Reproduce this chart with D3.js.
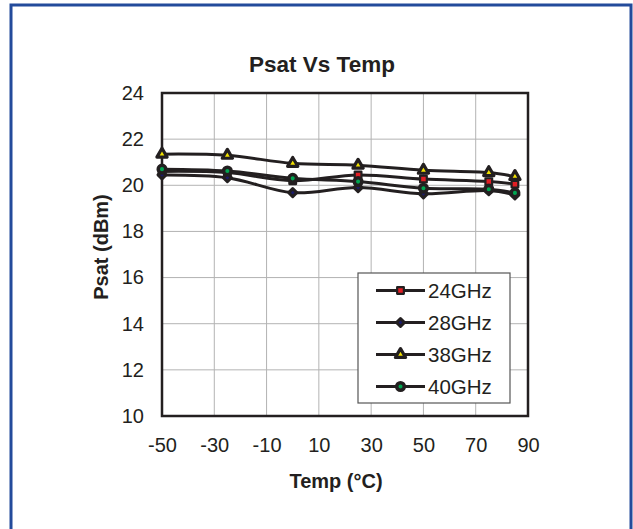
<!DOCTYPE html>
<html>
  <head>
    <meta charset="utf-8">
    <title>Psat Vs Temp</title>
    <script src="https://d3js.org/d3.v7.min.js"></script>
    <style>
      body { margin: 0; background: #fff; }
      svg { display: block; font-family: "Liberation Sans", Arial, sans-serif; }
      .tick text { font-size: 20px; fill: #231f20; }
    </style>
  </head>
  <body>
    <svg id="chart" width="633" height="529"></svg>
    <script>
      // chart data
      temps = [-50, -25, 0, 25, 50, 75, 85];
      psat24 = [20.6, 20.55, 20.2, 20.45, 20.27, 20.16, 20.05];
      psat28 = [20.45, 20.33, 19.68, 19.9, 19.63, 19.77, 19.58];
      psat38 = [21.35, 21.3, 20.95, 20.87, 20.65, 20.55, 20.38];
      psat40 = [20.7, 20.62, 20.3, 20.16, 19.87, 19.83, 19.67];
      seriesNames = ["24GHz", "28GHz", "38GHz", "40GHz"];
      xTicks = [-50, -30, -10, 10, 30, 50, 70, 90];
      yTicks = [10, 12, 14, 16, 18, 20, 22, 24];

      series = [
        { name: seriesNames[0], values: psat24, symbol: d3.symbolSquare, size: 45, stroke: 2.2, rot: 0, fill: "#e31e24" },
        { name: seriesNames[1], values: psat28, symbol: d3.symbolSquare, size: 32, stroke: 3, rot: 45, fill: "#1b1b6b" },
        { name: seriesNames[2], values: psat38, symbol: d3.symbolTriangle, size: 45, stroke: 3.2, rot: 0, fill: "#f2e200" },
        { name: seriesNames[3], values: psat40, symbol: d3.symbolCircle, size: 45, stroke: 3.5, rot: 0, fill: "#00a651" }
      ];

      svg = d3.select("#chart");
      margin = { top: 93, right: 105, bottom: 113, left: 162 };
      width = 633;
      height = 529;

      // blue frame
      svg.append("rect")
        .attr("x", 11).attr("y", 5)
        .attr("width", 620).attr("height", 540)
        .attr("fill", "none")
        .attr("stroke", "#234b9b")
        .attr("stroke-width", 3);

      x = d3.scaleLinear().domain([-50, 90]).range([margin.left, width - margin.right]);
      y = d3.scaleLinear().domain([10, 24]).range([height - margin.bottom, margin.top]);

      // grid
      grid = svg.append("g");
      grid.selectAll(".vx")
        .data(xTicks.slice(1, -1))
        .enter().append("line")
          .attr("x1", function(d) { return x(d); })
          .attr("x2", function(d) { return x(d); })
          .attr("y1", y(10)).attr("y2", y(24))
          .attr("stroke", "#b3b3b3").attr("stroke-width", 1);
      grid.selectAll(".hy")
        .data(yTicks.slice(1, -1))
        .enter().append("line")
          .attr("y1", function(d) { return y(d); })
          .attr("y2", function(d) { return y(d); })
          .attr("x1", x(-50)).attr("x2", x(90))
          .attr("stroke", "#b3b3b3").attr("stroke-width", 1);

      // axes (labels only), plain hyphen for negatives
      xAxis = d3.axisBottom(x).tickValues(xTicks).tickSize(0).tickPadding(22)
        .tickFormat(function(d) { return String(d); });
      yAxis = d3.axisLeft(y).tickValues(yTicks).tickSize(0).tickPadding(18)
        .tickFormat(function(d) { return String(d); });
      svg.append("g")
        .attr("transform", "translate(0," + y(10) + ")")
        .call(xAxis)
        .call(function(g) { g.select(".domain").remove(); });
      svg.append("g")
        .attr("transform", "translate(" + x(-50) + ",0)")
        .call(yAxis)
        .call(function(g) { g.select(".domain").remove(); });

      // plot border
      svg.append("rect")
        .attr("x", x(-50)).attr("y", y(24))
        .attr("width", x(90) - x(-50)).attr("height", y(10) - y(24))
        .attr("fill", "none")
        .attr("stroke", "#231f20")
        .attr("stroke-width", 2.5);

      // lines
      line = d3.line()
        .x(function(d, i) { return x(temps[i]); })
        .y(function(d) { return y(d); })
        .curve(d3.curveCatmullRom.alpha(0.5));

      series.forEach(function(s) {
        svg.append("path")
          .datum(s.values)
          .attr("d", line)
          .attr("fill", "none")
          .attr("stroke", "#231f20")
          .attr("stroke-width", 3);
      });
      series.forEach(function(s) {
        svg.selectAll(null)
          .data(s.values)
          .enter().append("path")
            .attr("d", d3.symbol().type(s.symbol).size(s.size))
            .attr("transform", function(d, i) { return "translate(" + x(temps[i]) + "," + y(d) + ") rotate(" + s.rot + ")"; })
            .attr("fill", s.fill)
            .attr("stroke", "#231f20")
            .attr("stroke-linejoin", "round")
            .attr("stroke-width", s.stroke);
      });

      // legend
      legend = svg.append("g");
      legend.append("rect")
        .attr("x", 358).attr("y", 273)
        .attr("width", 152).attr("height", 130)
        .attr("fill", "#fff")
        .attr("stroke", "#555")
        .attr("stroke-width", 1.2);
      series.forEach(function(s, i) {
        let ly = 290.5 + i * 32;
        legend.append("line")
          .attr("x1", 376).attr("x2", 425)
          .attr("y1", ly).attr("y2", ly)
          .attr("stroke", "#231f20").attr("stroke-width", 3);
        legend.append("path")
          .attr("d", d3.symbol().type(s.symbol).size(s.size))
          .attr("transform", "translate(400.5," + ly + ") rotate(" + s.rot + ")")
          .attr("fill", s.fill)
          .attr("stroke", "#231f20")
          .attr("stroke-linejoin", "round")
          .attr("stroke-width", s.stroke);
        legend.append("text")
          .attr("x", 428).attr("y", ly + 7.5)
          .attr("font-size", 20.5)
          .attr("fill", "#231f20")
          .text(s.name);
      });

      // titles
      svg.append("text")
        .attr("x", 322).attr("y", 71.5)
        .attr("text-anchor", "middle")
        .attr("font-size", 22.5)
        .attr("font-weight", "bold")
        .attr("fill", "#231f20")
        .text("Psat Vs Temp");
      svg.append("text")
        .attr("x", 336).attr("y", 488)
        .attr("text-anchor", "middle")
        .attr("font-size", 20)
        .attr("font-weight", "bold")
        .attr("fill", "#231f20")
        .text("Temp (°C)");
      svg.append("text")
        .attr("transform", "translate(108,247) rotate(-90)")
        .attr("text-anchor", "middle")
        .attr("font-size", 20)
        .attr("font-weight", "bold")
        .attr("fill", "#231f20")
        .text("Psat (dBm)");
    </script>
  </body>
</html>
